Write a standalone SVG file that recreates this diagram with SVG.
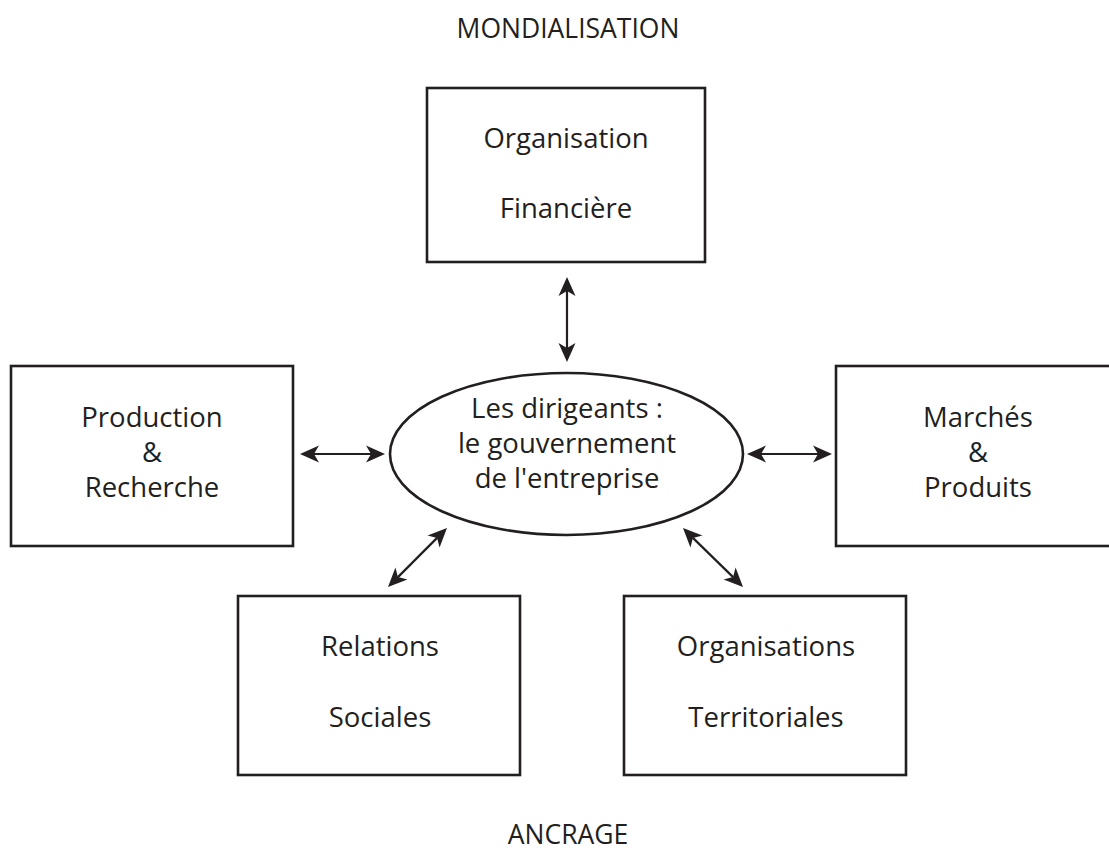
<svg xmlns="http://www.w3.org/2000/svg" width="1109" height="852" viewBox="0 0 1109 852">
<style>
.box{fill:#fff;stroke:#231f20;stroke-width:2.6}
.ell{fill:#fff;stroke:#231f20;stroke-width:2.6}
.t{font-family:"Open Sans","Liberation Sans",sans-serif;font-size:27.5px;fill:#231f20;text-anchor:middle}
.h{font-family:"Open Sans","Liberation Sans",sans-serif;font-size:26.5px;fill:#231f20;text-anchor:middle}
.c{stroke:#231f20;stroke-width:2.2;fill:none}
.ah{fill:#231f20;stroke:none}
</style>
<rect width="1109" height="852" fill="#fff"/>
<text id="mondialisation" class="h" x="568" y="38">MONDIALISATION</text>
<text id="ancrage" class="h" x="568" y="844">ANCRAGE</text>
<g id="connectors">
<line class="c" x1="567" y1="291" x2="567" y2="348"/>
<polygon class="ah" points="567,277 575.5,296 567,291 558.5,296"/>
<polygon class="ah" points="567,362 575.5,343 567,348 558.5,343"/>
<line class="c" x1="314" y1="454" x2="371" y2="454"/>
<polygon class="ah" points="300,454 319,445.5 314,454 319,462.5"/>
<polygon class="ah" points="385,454 366,445.5 371,454 366,462.5"/>
<line class="c" x1="761" y1="454" x2="818" y2="454"/>
<polygon class="ah" points="747,454 766,445.5 761,454 766,462.5"/>
<polygon class="ah" points="832,454 813,445.5 818,454 813,462.5"/>
<line class="c" x1="397.9" y1="577.1" x2="437.1" y2="537.9"/>
<polygon class="ah" points="447,528 439.58,547.44 437.1,537.9 427.56,535.42"/>
<polygon class="ah" points="388,587 407.44,579.58 397.9,577.1 395.42,567.56"/>
<line class="c" x1="692.9" y1="537.9" x2="733.1" y2="577.1"/>
<polygon class="ah" points="683,528 702.44,535.42 692.9,537.9 690.42,547.44"/>
<polygon class="ah" points="743,587 735.58,567.56 733.1,577.1 723.56,579.58"/>
</g>
<g id="finance">
<rect class="box" x="427" y="88" width="278" height="174"/>
<text class="t" x="566" y="148">Organisation</text>
<text class="t" x="566" y="218">Financière</text>
</g>
<g id="production">
<rect class="box" x="11" y="366" width="282" height="180"/>
<text class="t" x="152" y="427">Production</text>
<text class="t" x="152" y="462">&amp;</text>
<text class="t" x="152" y="497">Recherche</text>
</g>
<g id="dirigeants">
<ellipse class="ell" cx="566.5" cy="454" rx="176.5" ry="81"/>
<text class="t" x="567" y="418">Les dirigeants :</text>
<text class="t" x="567" y="453">le gouvernement</text>
<text class="t" x="567" y="488">de l'entreprise</text>
</g>
<g id="marches">
<rect class="box" x="836" y="366" width="290" height="180"/>
<text class="t" x="978" y="427">Marchés</text>
<text class="t" x="978" y="462">&amp;</text>
<text class="t" x="978" y="497">Produits</text>
</g>
<g id="relations">
<rect class="box" x="238" y="596" width="282" height="179"/>
<text class="t" x="380" y="656">Relations</text>
<text class="t" x="380" y="727">Sociales</text>
</g>
<g id="territoriales">
<rect class="box" x="624" y="596" width="282" height="179"/>
<text class="t" x="766" y="656">Organisations</text>
<text class="t" x="766" y="727">Territoriales</text>
</g>
</svg>
